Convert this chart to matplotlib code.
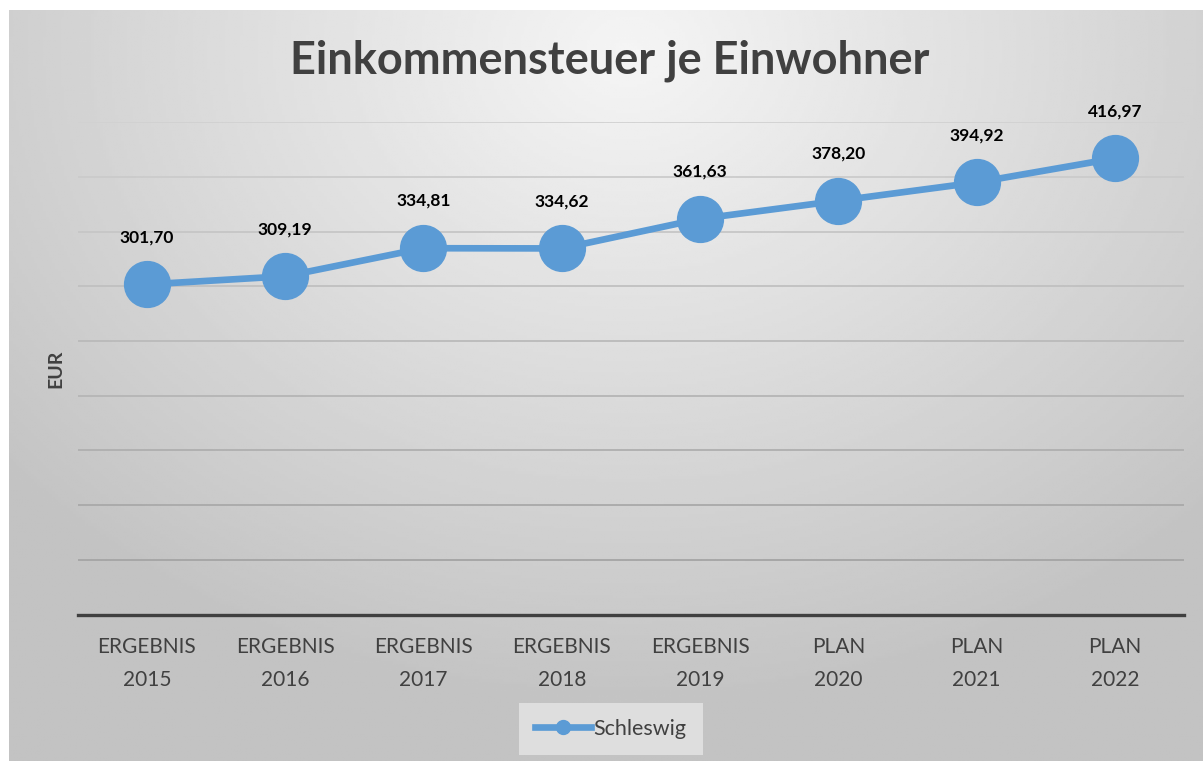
import numpy as np
import matplotlib.pyplot as plt
from matplotlib.lines import Line2D

years = ["ERGEBNIS\n2015", "ERGEBNIS\n2016", "ERGEBNIS\n2017", "ERGEBNIS\n2018",
         "ERGEBNIS\n2019", "PLAN\n2020", "PLAN\n2021", "PLAN\n2022"]
schleswig = [301.70, 309.19, 334.81, 334.62, 361.63, 378.20, 394.92, 416.97]
series_name = "Schleswig"
title = "Einkommensteuer je Einwohner"
y_label = "EUR"

W, H = 1203, 761
blue = "#5b9bd5"
dark = "#404040"
font = "Lato"

fig = plt.figure(figsize=(W / 100, H / 100), dpi=100)
fig.patch.set_facecolor("white")

# radial gray background of the chart area
bg = fig.add_axes([9 / W, 0, 1 - 9 / W, (H - 10) / H])
bg.set_axis_off()
gx, gy = np.meshgrid(np.linspace(0, W - 9, 400), np.linspace(0, H - 10, 260))
r = np.sqrt((gx - 620) ** 2 + ((gy - 40) * 1.25) ** 2) / 820
r = np.clip(r, 0, 1)
shade = 0.96 - (0.96 - 0.765) * r
bg.imshow(shade, cmap="gray", vmin=0, vmax=1, aspect="auto", extent=[0, 1, 1, 0])
bg.set_xlim(0, 1)
bg.set_ylim(1, 0)

left, right = 77.8, 1184
top, bottom = 122.2, 614.5
ax = fig.add_axes([left / W, 1 - bottom / H, (right - left) / W, (bottom - top) / H])
ax.patch.set_alpha(0)

x = np.arange(len(years))
ax.set_xlim(-0.5, len(years) - 0.5)
ax.set_ylim(0, 450)

# gridlines get darker toward the bottom, like the reference
levels = np.arange(50, 451, 50)
for lv in levels:
    g = 0.62 + 0.2 * (lv / 450)
    ax.axhline(lv, color=(g, g, g), lw=1.3, zorder=1)

ax.plot(x, schleswig, color=blue, lw=4.8, marker="o", markersize=33,
        markerfacecolor=blue, markeredgecolor=blue, zorder=3)

for xi, v in zip(x, schleswig):
    ax.annotate(f"{v:.2f}".replace(".", ","), (xi, v), xytext=(0, 34),
                textcoords="offset points", ha="center", va="center",
                fontsize=12.5, fontweight="bold", color="black", family=font)

for s in ["top", "right", "left"]:
    ax.spines[s].set_visible(False)
ax.spines["bottom"].set_color(dark)
ax.spines["bottom"].set_linewidth(2.4)
ax.set_yticks([])
ax.set_xticks(x)
ax.set_xticklabels(years, fontsize=15, color=dark, family=font, linespacing=1.85)
ax.tick_params(axis="x", length=0, pad=16)

ax.set_ylabel(y_label, fontsize=14, fontweight="bold", color=dark, family=font)
ax.yaxis.set_label_coords(-0.0125, 0.5)

fig.text(610 / W, 1 - 61 / H, title, ha="center", va="center", fontsize=32.5,
         fontweight="bold", color=dark, family=font)

handle = Line2D([], [], color=blue, lw=4.8, marker="o", markersize=10)
leg = fig.legend([handle], [series_name], loc="center",
                 bbox_to_anchor=(611 / W, 1 - 729 / H), frameon=True,
                 fancybox=False, prop={"family": font, "size": 15.5},
                 handlelength=2.6, borderpad=0.75, handletextpad=0.1)
leg.get_frame().set_facecolor("#dedede")
leg.get_frame().set_edgecolor("none")
leg.get_frame().set_alpha(1)
for t in leg.get_texts():
    t.set_color(dark)

fig.savefig("out.png", dpi=100)
